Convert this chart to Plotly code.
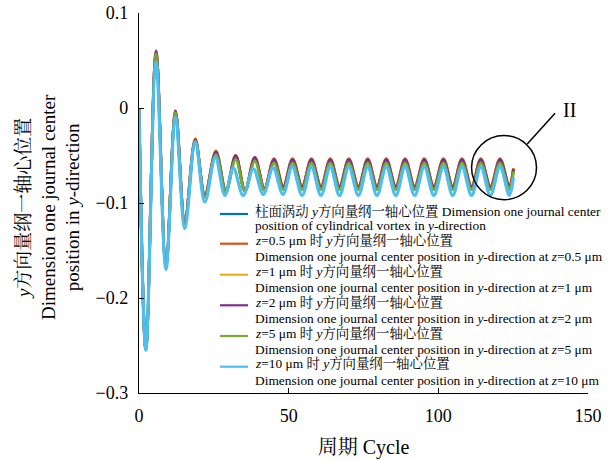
import plotly.graph_objects as go

# ---- data (extrema of each oscillating curve) ----
cycle_main = [0, 2.3, 5.7, 9.0, 12.2, 15.3, 18.8, 22.0, 25.7, 29.0,
              32.3, 35.4, 38.7, 41.9, 45.1, 48.2, 51.3, 54.5, 57.6, 60.8,
              63.9, 67.0, 70.1, 73.3, 76.4, 79.5, 82.6, 85.8, 88.9, 92.1,
              95.3, 98.5, 101.7, 104.8, 107.9, 111.1, 114.2, 117.4, 120.6, 123.7,
              125.1]

y_cyl = [0, -0.254, 0.059, -0.166, -0.004, -0.120, -0.034, -0.092, -0.047, -0.087,
         -0.051, -0.087, -0.053, -0.085, -0.055, -0.084, -0.055, -0.084, -0.055, -0.084,
         -0.055, -0.084, -0.055, -0.084, -0.055, -0.084, -0.055, -0.084, -0.055, -0.084,
         -0.055, -0.084, -0.055, -0.084, -0.055, -0.084, -0.055, -0.084, -0.055, -0.084,
         -0.065]

y_z05 = [0, -0.254, 0.059, -0.166, -0.004, -0.120, -0.034, -0.092, -0.047, -0.087,
         -0.051, -0.087, -0.053, -0.085, -0.054, -0.083, -0.054, -0.083, -0.054, -0.083,
         -0.054, -0.083, -0.054, -0.083, -0.054, -0.083, -0.054, -0.083, -0.054, -0.083,
         -0.054, -0.083, -0.054, -0.083, -0.054, -0.083, -0.054, -0.083, -0.054, -0.083,
         -0.064]

y_z1 = [0, -0.254, 0.060, -0.165, -0.003, -0.119, -0.032, -0.091, -0.045, -0.086,
        -0.050, -0.086, -0.052, -0.084, -0.053, -0.082, -0.053, -0.082, -0.053, -0.082,
        -0.053, -0.082, -0.053, -0.082, -0.053, -0.082, -0.053, -0.082, -0.053, -0.082,
        -0.053, -0.082, -0.053, -0.082, -0.053, -0.082, -0.053, -0.082, -0.053, -0.082,
        -0.063]

y_z2 = [0, -0.254, 0.060, -0.166, -0.003, -0.120, -0.033, -0.092, -0.046, -0.087,
        -0.050, -0.087, -0.052, -0.085, -0.054, -0.083, -0.054, -0.083, -0.054, -0.083,
        -0.054, -0.083, -0.054, -0.083, -0.054, -0.083, -0.054, -0.083, -0.054, -0.083,
        -0.054, -0.083, -0.054, -0.083, -0.054, -0.083, -0.054, -0.083, -0.054, -0.083,
        -0.064]

y_z5 = [0, -0.254, 0.057, -0.167, -0.005, -0.122, -0.035, -0.094, -0.049, -0.089,
        -0.054, -0.088, -0.056, -0.087, -0.058, -0.086, -0.058, -0.086, -0.058, -0.086,
        -0.058, -0.086, -0.058, -0.086, -0.058, -0.086, -0.058, -0.086, -0.058, -0.086,
        -0.058, -0.086, -0.058, -0.086, -0.058, -0.086, -0.058, -0.086, -0.058, -0.086,
        -0.067]

cycle_z10 = [0, 2.3, 5.7, 9.0, 12.2, 15.3, 18.8, 22.0, 25.5, 28.7,
             31.5, 34.8, 38.2, 41.5, 44.8, 48.1, 51.2, 54.5, 57.6, 60.8,
             63.9, 67.0, 70.1, 73.3, 76.4, 79.5, 82.6, 85.8, 88.9, 92.1,
             95.3, 98.5, 101.7, 104.8, 107.9, 111.1, 114.2, 117.4, 120.6, 123.7,
             125.1]

y_z10 = [0, -0.255, 0.048, -0.170, -0.010, -0.127, -0.036, -0.099, -0.052, -0.092,
         -0.063, -0.092, -0.064, -0.091, -0.063, -0.091, -0.062, -0.092, -0.062, -0.092,
         -0.062, -0.092, -0.062, -0.092, -0.062, -0.092, -0.062, -0.092, -0.062, -0.092,
         -0.062, -0.092, -0.062, -0.092, -0.062, -0.092, -0.062, -0.092, -0.062, -0.092,
         -0.073]

legend_line1 = [
    "柱面涡动 <i>y</i>方向量纲一轴心位置 Dimension one journal center",
    "<i>z</i>=0.5 μm 时 <i>y</i>方向量纲一轴心位置",
    "<i>z</i>=1 μm 时 <i>y</i>方向量纲一轴心位置",
    "<i>z</i>=2 μm 时 <i>y</i>方向量纲一轴心位置",
    "<i>z</i>=5 μm 时 <i>y</i>方向量纲一轴心位置",
    "<i>z</i>=10 μm 时 <i>y</i>方向量纲一轴心位置",
]
legend_line2 = [
    "position of cylindrical vortex in <i>y</i>-direction",
    "Dimension one journal center position in <i>y</i>-direction at <i>z</i>=0.5 μm",
    "Dimension one journal center position in <i>y</i>-direction at <i>z</i>=1 μm",
    "Dimension one journal center position in <i>y</i>-direction at <i>z</i>=2 μm",
    "Dimension one journal center position in <i>y</i>-direction at <i>z</i>=5 μm",
    "Dimension one journal center position in <i>y</i>-direction at <i>z</i>=10 μm",
]
series_x = [cycle_main, cycle_main, cycle_main, cycle_main, cycle_main, cycle_z10]
series_y = [y_cyl, y_z05, y_z1, y_z2, y_z5, y_z10]
series_colors = ["#0072BD", "#D95319", "#EDB120", "#7E2F8E", "#77AC30", "#4DBEEE"]
series_widths = [2.8, 2.8, 2.8, 2.8, 2.8, 3.2]

x_ticks = [0, 50, 100, 150]
y_ticks = [-0.3, -0.2, -0.1, 0, 0.1]

FONT = "Times New Roman, Liberation Serif, Noto Serif CJK SC, Noto Sans CJK SC, serif"

L, R, T, B = 139, 21, 13, 67
W, H = 609, 460
pw, ph = W - L - R, H - T - B


def px_x(p):
    return (p - L) / pw


def px_y(p):
    return (H - B - p) / ph


fig = go.Figure()
for name, xs, ys, c, w in zip(legend_line1, series_x, series_y, series_colors, series_widths):
    fig.add_trace(go.Scatter(x=xs, y=ys, mode="lines", name=name, showlegend=False,
                             line=dict(color=c, width=w, shape="spline", smoothing=1.0)))

fig.update_layout(
    width=W, height=H,
    margin=dict(l=L, r=R, t=T, b=B, autoexpand=False),
    paper_bgcolor="white", plot_bgcolor="white",
    font=dict(family=FONT, color="black"),
    showlegend=False,
    xaxis=dict(range=[0, 150], tickvals=x_ticks, showline=True, linecolor="black",
               linewidth=1.3, ticks="inside", ticklen=5, tickcolor="black",
               showgrid=False, zeroline=False, tickfont=dict(size=18),
               ticklabelstandoff=6, automargin=False,
               title=dict(text="周期 Cycle", font=dict(size=20), standoff=15)),
    yaxis=dict(range=[-0.3, 0.1], tickvals=y_ticks, showline=True, linecolor="black",
               linewidth=1.3, ticks="inside", ticklen=5, tickcolor="black",
               showgrid=False, zeroline=False, tickfont=dict(size=18),
               ticklabelstandoff=6, automargin=False),
)

# legend (drawn as sample lines + text rows, matching the reference's tight spacing)
row1_y = [211, 240.7, 271.7, 302.3, 333, 363.7]
row2_y = [225.7, 256.7, 287.3, 318.3, 349, 380]
for i, c in enumerate(series_colors):
    fig.add_shape(type="line", xref="paper", yref="paper",
                  x0=px_x(220), x1=px_x(248), y0=px_y(row1_y[i] + 3), y1=px_y(row1_y[i] + 3),
                  line=dict(color=c, width=2.2))
    fig.add_annotation(text=legend_line1[i], xref="paper", yref="paper",
                       x=px_x(253), y=px_y(row1_y[i]), xanchor="left", yanchor="middle",
                       showarrow=False, font=dict(size=13.4, family=FONT))
    fig.add_annotation(text=legend_line2[i], xref="paper", yref="paper",
                       x=px_x(253), y=px_y(row2_y[i]), xanchor="left", yanchor="middle",
                       showarrow=False, font=dict(size=13.4, family=FONT))

# y-axis title (three lines)
fig.add_annotation(
    text="<i>y</i>方向量纲一轴心位置<br>Dimension one journal center<br>position in <i>y</i>-direction",
    xref="paper", yref="paper", x=px_x(48), y=px_y(207),
    xanchor="center", yanchor="middle", textangle=-90, showarrow=False,
    font=dict(size=19, family=FONT))

# circle marking region II
fig.add_shape(type="circle", xref="x", yref="y", x0=111.1, x1=132.8, y0=-0.0965, y1=-0.0290,
              line=dict(color="black", width=1.5))
fig.add_shape(type="line", xref="x", yref="y", x0=129.7, y0=-0.0380, x1=139.0, y1=-0.0056,
              line=dict(color="black", width=1.5))
fig.add_annotation(text="II", xref="x", yref="y", x=143.7, y=-0.0020, showarrow=False,
                   xanchor="center", yanchor="middle", font=dict(size=20, family=FONT))

fig.write_html("out.html", config={"displayModeBar": False},
               post_script="document.body.style.margin='0';document.body.style.padding='0';")
